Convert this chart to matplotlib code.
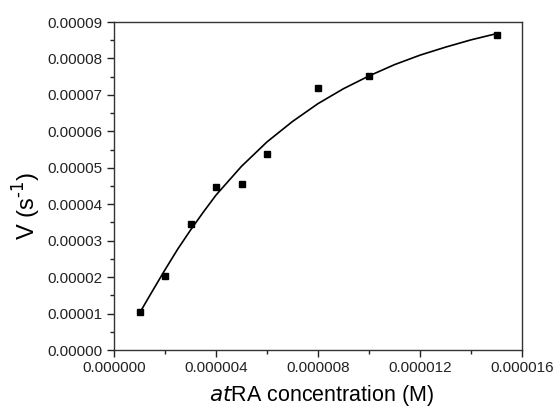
import matplotlib
matplotlib.use("Agg")
import matplotlib.pyplot as plt
from matplotlib.ticker import MultipleLocator, FormatStrFormatter

plt.rcParams['font.family'] = ['Liberation Sans', 'DejaVu Sans']

# measured rates (M, s^-1)
conc = [1e-6, 2e-6, 3e-6, 4e-6, 5e-6, 6e-6, 8e-6, 10e-6, 15e-6]
rate = [1.03e-5, 2.03e-5, 3.47e-5, 4.48e-5, 4.56e-5, 5.37e-5, 7.19e-5, 7.51e-5, 8.63e-5]

# fitted curve (uM, 1e-5 s^-1)
fit_x = [1, 1.5, 2, 2.5, 3, 3.5, 4, 5, 6, 7, 8, 9, 10, 11, 12, 13, 14, 15]
fit_y = [1.01, 1.61, 2.20, 2.77, 3.29, 3.78, 4.25, 5.04, 5.71, 6.27, 6.76,
         7.17, 7.52, 7.83, 8.09, 8.31, 8.51, 8.68]

fig = plt.figure(figsize=(5.55, 4.07), dpi=100)
ax = fig.add_axes([114 / 555, 57 / 407, 408 / 555, 328 / 407])

ax.plot([v * 1e-6 for v in fit_x], [v * 1e-5 for v in fit_y],
        color='black', lw=1.2, solid_capstyle='round')
ax.plot(conc, rate, 's', color='black', ms=4.2, zorder=3)

ax.set_xlim(0, 16e-6)
ax.set_ylim(0, 9e-5)
ax.xaxis.set_major_locator(MultipleLocator(4e-6))
ax.xaxis.set_minor_locator(MultipleLocator(2e-6))
ax.yaxis.set_major_locator(MultipleLocator(1e-5))
ax.yaxis.set_minor_locator(MultipleLocator(5e-6))
ax.xaxis.set_major_formatter(FormatStrFormatter('%.6f'))
ax.yaxis.set_major_formatter(FormatStrFormatter('%.5f'))

ax.tick_params(which='both', direction='out', top=False, right=False,
               labelsize=11, colors='#222222', width=1)
ax.tick_params(which='major', length=5)
ax.tick_params(which='minor', length=3)
ax.tick_params(axis='x', pad=3)
for sp in ax.spines.values():
    sp.set_linewidth(1)
    sp.set_color('#333333')

ax.set_xlabel(r'$\it{at}$RA concentration (M)', fontsize=15.5)
ax.set_ylabel(r'V (s$^{\text{-1}}$)', fontsize=17)
ax.xaxis.set_label_coords(0.51, -0.100)
ax.yaxis.set_label_coords(-0.175, 0.44)

fig.savefig('out.png', dpi=100)
